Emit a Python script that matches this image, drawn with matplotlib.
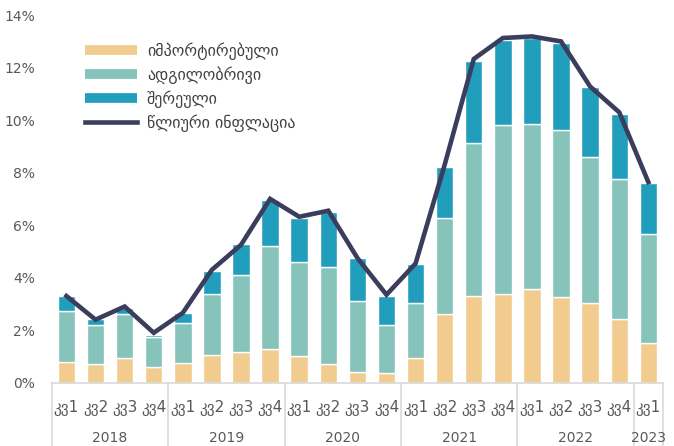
import matplotlib
matplotlib.use('Agg')
import matplotlib.pyplot as plt
import numpy as np
from matplotlib.lines import Line2D
from matplotlib.ticker import FuncFormatter

plt.rcParams['font.family'] = ['DejaVu Sans']

quarters = ['კვ1', 'კვ2', 'კვ3', 'კვ4'] * 5 + ['კვ1']
years = ['2018', '2019', '2020', '2021', '2022', '2023']
imported = [0.78, 0.70, 0.93, 0.59, 0.74, 1.07, 1.16, 1.29, 1.02, 0.71, 0.39,
            0.36, 0.93, 2.60, 3.32, 3.36, 3.56, 3.27, 3.02, 2.41, 1.50]
local = [1.94, 1.48, 1.68, 1.15, 1.53, 2.29, 2.94, 3.92, 3.56, 3.70, 2.73,
         1.82, 2.09, 3.67, 5.81, 6.44, 6.30, 6.36, 5.57, 5.34, 4.15]
mixed = [0.59, 0.23, 0.24, 0.09, 0.37, 0.91, 1.17, 1.74, 1.71, 2.09, 1.62,
         1.13, 1.49, 1.96, 3.14, 3.26, 3.26, 3.30, 2.69, 2.50, 1.95]
inflation = [3.30, 2.40, 2.90, 1.90, 2.66, 4.30, 5.25, 7.00, 6.32, 6.55, 4.75,
             3.35, 4.54, 8.30, 12.33, 13.13, 13.19, 13.00, 11.28, 10.30, 7.64]

labels = ['იმპორტირებული', 'ადგილობრივი', 'შერეული', 'წლიური ინფლაცია']
c_imp, c_loc, c_mix, c_line = '#F2CB8E', '#85C3BB', '#219EBC', '#3A3E5C'
grey = '#595959'
axis_grey = '#D9D9D9'

fig = plt.figure(figsize=(6.74, 4.46), dpi=100)
ax = fig.add_axes([0.077, 0.142, 0.9065, 0.824])

x = np.arange(len(imported))
imp = np.array(imported)
loc = np.array(local)
w = 0.6
ax.bar(x, imp, w, color=c_imp, edgecolor='white', linewidth=1)
ax.bar(x, loc, w, bottom=imp, color=c_loc, edgecolor='white', linewidth=1)
ax.bar(x, mixed, w, bottom=imp + loc, color=c_mix, edgecolor='white', linewidth=1)
ax.plot(x, inflation, color=c_line, lw=3.3, solid_joinstyle='miter', zorder=5)

ax.set_xlim(-0.5, len(x) - 0.5)
ax.set_ylim(0, 14)
ax.set_yticks(range(0, 15, 2))
ax.yaxis.set_major_formatter(FuncFormatter(lambda v, p: f'{v:.0f}%'))
ax.tick_params(axis='y', length=0, labelsize=10, labelcolor=grey, pad=12)
ax.set_xticks([])
for s in ['top', 'right', 'left']:
    ax.spines[s].set_visible(False)
ax.spines['bottom'].set_color(axis_grey)
ax.spines['bottom'].set_linewidth(1.2)

# multi-level category axis
tr = ax.get_xaxis_transform()
for i, q in enumerate(quarters):
    ax.text(i, -0.068, q, transform=tr, ha='center', va='center',
            fontsize=11, color=grey)
starts = [0, 4, 8, 12, 16, 20]
ends = [4, 8, 12, 16, 20, 21]
for yr, s, e in zip(years, starts, ends):
    ax.text((s + e - 1) / 2, -0.15, yr, transform=tr, ha='center', va='center',
            fontsize=10, color=grey)
for b in [0, 4, 8, 12, 16, 20, 21]:
    ax.add_line(Line2D([b - 0.5, b - 0.5], [0, -0.18], transform=tr,
                       color=axis_grey, lw=1.2, clip_on=False))

handles = [Line2D([], [], color=c_imp, lw=7, solid_capstyle='butt'),
           Line2D([], [], color=c_loc, lw=7, solid_capstyle='butt'),
           Line2D([], [], color=c_mix, lw=7, solid_capstyle='butt'),
           Line2D([], [], color=c_line, lw=3.3)]
leg = ax.legend(handles, labels, loc='upper left', bbox_to_anchor=(0.03, 0.965),
                frameon=False, fontsize=11.5, handlelength=3.3, handletextpad=0.6,
                labelspacing=0.4, labelcolor='#404040')

fig.savefig('out.png', dpi=100)
